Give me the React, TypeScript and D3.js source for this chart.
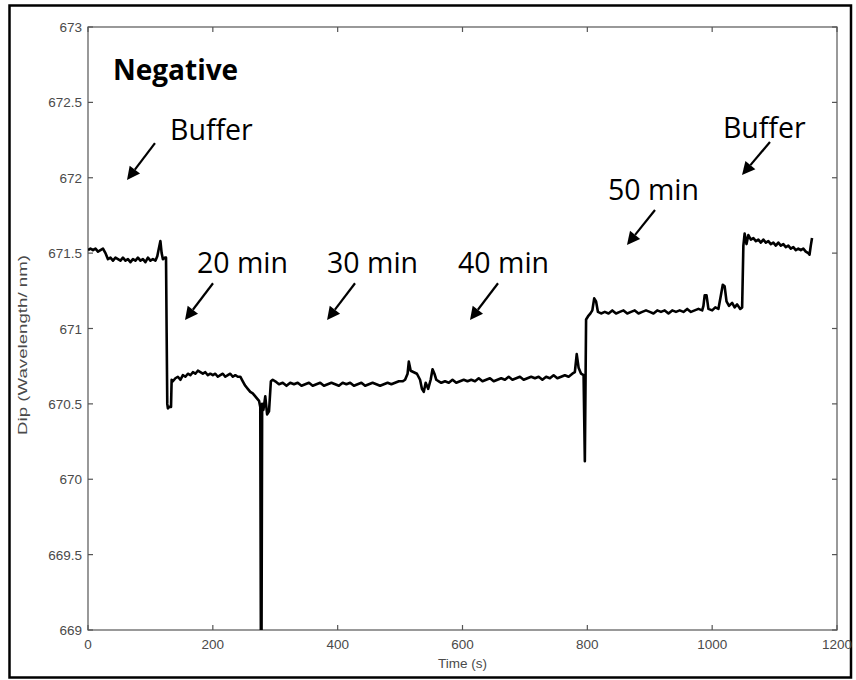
import React from "react";
import * as d3 from "d3";

// Buffer baseline and drop (0–134 s)
const timesA: number[] = [0, 4, 8, 12, 16, 20, 24, 28, 32, 36, 40, 44, 48, 52, 56, 60, 64, 68, 72, 76, 80, 84, 88, 92, 96, 100, 104, 108, 111, 113, 116, 118, 120, 123, 125, 126, 127, 128, 130, 133, 134, 136];
const dipsA: number[] = [671.52, 671.53, 671.52, 671.53, 671.51, 671.52, 671.53, 671.5, 671.46, 671.47, 671.45, 671.47, 671.46, 671.45, 671.47, 671.45, 671.46, 671.44, 671.46, 671.45, 671.47, 671.45, 671.46, 671.44, 671.47, 671.45, 671.46, 671.45, 671.48, 671.52, 671.58, 671.5, 671.46, 671.47, 671.47, 670.97, 670.5, 670.47, 670.48, 670.48, 670.66, 670.65];

// 20 min segment with downward spike (140–296 s)
const timesB: number[] = [140, 144, 148, 152, 156, 160, 164, 168, 172, 176, 180, 184, 188, 192, 196, 200, 204, 208, 212, 216, 220, 224, 228, 232, 236, 240, 244, 248, 252, 256, 260, 264, 268, 272, 274, 276, 277, 278, 279, 281, 284, 287, 290, 293, 296];
const dipsB: number[] = [670.67, 670.68, 670.66, 670.69, 670.68, 670.7, 670.69, 670.71, 670.7, 670.72, 670.71, 670.7, 670.71, 670.69, 670.7, 670.69, 670.7, 670.68, 670.69, 670.7, 670.68, 670.69, 670.7, 670.68, 670.69, 670.68, 670.68, 670.65, 670.62, 670.6, 670.58, 670.57, 670.55, 670.53, 670.52, 670.48, 668.9, 668.9, 670.5, 670.46, 670.55, 670.43, 670.45, 670.65, 670.66];

// 30–40 min segment (300–801 s)
const timesC: number[] = [300, 306, 312, 318, 324, 330, 336, 342, 348, 354, 360, 366, 372, 378, 384, 390, 396, 402, 408, 414, 420, 426, 432, 438, 444, 450, 456, 462, 468, 474, 480, 486, 492, 498, 504, 508, 512, 514, 517, 522, 527, 532, 535, 538, 541, 545, 549, 552, 555, 558, 562, 566, 572, 578, 584, 590, 596, 602, 608, 614, 620, 626, 632, 638, 644, 650, 656, 662, 668, 674, 680, 686, 692, 698, 704, 710, 716, 722, 728, 734, 740, 746, 752, 758, 764, 770, 776, 780, 783, 786, 790, 794, 796, 798, 801];
const dipsC: number[] = [670.65, 670.63, 670.64, 670.62, 670.64, 670.63, 670.64, 670.62, 670.63, 670.64, 670.62, 670.63, 670.64, 670.62, 670.63, 670.64, 670.63, 670.62, 670.64, 670.63, 670.64, 670.62, 670.63, 670.64, 670.62, 670.63, 670.64, 670.63, 670.62, 670.63, 670.64, 670.63, 670.64, 670.65, 670.65, 670.66, 670.7, 670.78, 670.72, 670.71, 670.7, 670.66, 670.6, 670.58, 670.64, 670.6, 670.66, 670.73, 670.7, 670.66, 670.65, 670.64, 670.65, 670.64, 670.66, 670.64, 670.65, 670.66, 670.65, 670.66, 670.65, 670.67, 670.65, 670.66, 670.67, 670.65, 670.66, 670.67, 670.66, 670.68, 670.66, 670.67, 670.68, 670.66, 670.67, 670.68, 670.67, 670.68, 670.66, 670.68, 670.67, 670.69, 670.67, 670.68, 670.69, 670.68, 670.7, 670.71, 670.83, 670.74, 670.7, 670.69, 670.12, 671.06, 671.08];

// 50 min segment and final buffer (805–1160 s)
const timesD: number[] = [805, 808, 811, 814, 817, 822, 828, 834, 840, 846, 852, 858, 864, 870, 876, 882, 888, 894, 900, 906, 912, 918, 924, 930, 936, 942, 948, 954, 960, 966, 972, 978, 984, 986, 988, 991, 994, 1000, 1005, 1010, 1014, 1017, 1020, 1023, 1027, 1032, 1036, 1040, 1045, 1048, 1050, 1052, 1055, 1058, 1062, 1066, 1070, 1074, 1078, 1082, 1086, 1090, 1094, 1098, 1102, 1106, 1110, 1114, 1118, 1122, 1126, 1130, 1134, 1138, 1142, 1146, 1150, 1154, 1156, 1158, 1160];
const dipsD: number[] = [671.1, 671.12, 671.2, 671.18, 671.11, 671.1, 671.11, 671.1, 671.12, 671.1, 671.11, 671.12, 671.1, 671.11, 671.12, 671.1, 671.11, 671.12, 671.11, 671.1, 671.12, 671.11, 671.12, 671.1, 671.12, 671.11, 671.12, 671.11, 671.13, 671.11, 671.12, 671.13, 671.12, 671.15, 671.22, 671.22, 671.13, 671.12, 671.14, 671.13, 671.22, 671.29, 671.28, 671.18, 671.15, 671.17, 671.14, 671.16, 671.13, 671.14, 671.55, 671.63, 671.56, 671.62, 671.59, 671.6, 671.58, 671.59, 671.57, 671.59, 671.57, 671.58, 671.56, 671.57, 671.55, 671.57, 671.55, 671.56, 671.54, 671.55, 671.53, 671.54, 671.52, 671.53, 671.52, 671.53, 671.51, 671.5, 671.49, 671.55, 671.6];

const xTicks: number[] = [0, 200, 400, 600, 800, 1000, 1200];
const yTicks: number[] = [669, 669.5, 670, 670.5, 671, 671.5, 672, 672.5, 673];

const labelTexts: string[] = ["Buffer", "20 min", "30 min", "40 min", "50 min", "Buffer"];
const labelT: number[] = [131.4, 174.6, 383, 592.8, 833.1, 1017.3];
const labelV: number[] = [672.25, 671.368, 671.368, 671.368, 671.852, 672.264];
const arrowT0: number[] = [107.3, 200.3, 427.8, 656.9, 908.4, 1092.6];
const arrowV0: number[] = [672.23, 671.3, 671.3, 671.3, 671.786, 672.237];
const arrowT1: number[] = [62.5, 155.4, 383, 612, 863.5, 1047.8];
const arrowV1: number[] = [671.985, 671.056, 671.056, 671.056, 671.554, 672.018];

const L = 88, R = 837, T = 27, B = 630;

export default function App() {
  const x = d3.scaleLinear().domain([0, 1200]).range([L, R]);
  const y = d3.scaleLinear().domain([669, 673]).range([B, T]);
  const times = [...timesA, ...timesB, ...timesC, ...timesD];
  const dips = [...dipsA, ...dipsB, ...dipsC, ...dipsD];
  const pts = times.map((t, i) => [t, dips[i]] as [number, number]);
  const line = d3.line<[number, number]>().x((d) => x(d[0])).y((d) => y(d[1]));
  const axisColor = "#555";
  const tickFont = "'Liberation Sans', Arial, sans-serif";
  const annFont = "'Open Sans', sans-serif";
  const tfs = 13.5;
  const tcol = "#4a4a4a";

  const arrows = labelTexts.map((_, i) => {
    const x0 = x(arrowT0[i]), y0 = y(arrowV0[i]);
    const x1 = x(arrowT1[i]), y1 = y(arrowV1[i]);
    const dx = x1 - x0, dy = y1 - y0;
    const len = Math.hypot(dx, dy);
    const ux = dx / len, uy = dy / len;
    const hl = 13, hw = 6.5;
    const bx = x1 - ux * hl, by = y1 - uy * hl;
    const head = `${x1},${y1} ${bx - uy * hw},${by + ux * hw} ${bx + uy * hw},${by - ux * hw}`;
    return { x0, y0, bx, by, head };
  });

  return (
    <svg width={856} height={680} style={{ position: "absolute", left: 0, top: 0, background: "#fff" }}>
      <rect x={0} y={0} width={856} height={680} fill="#fff" />
      <rect x={9.5} y={5.5} width={841.5} height={672} fill="none" stroke="#000" strokeWidth={2.5} />
      <defs>
        <clipPath id="plotclip">
          <rect x={L} y={T} width={R - L} height={B - T} />
        </clipPath>
      </defs>
      <rect x={L} y={T} width={R - L} height={B - T} fill="#fff" stroke={axisColor} strokeWidth={1.2} />
      {xTicks.map((t) => (
        <g key={"xt" + t}>
          <line x1={x(t)} x2={x(t)} y1={B} y2={B - 5} stroke={axisColor} strokeWidth={1.2} />
          <line x1={x(t)} x2={x(t)} y1={T} y2={T + 5} stroke={axisColor} strokeWidth={1.2} />
          <text x={x(t)} y={B + 19} textAnchor="middle" fontFamily={tickFont} fontSize={tfs} fill={tcol}>
            {t}
          </text>
        </g>
      ))}
      {yTicks.map((v) => (
        <g key={"yt" + v}>
          <line x1={L} x2={L + 5} y1={y(v)} y2={y(v)} stroke={axisColor} strokeWidth={1.2} />
          <line x1={R} x2={R - 5} y1={y(v)} y2={y(v)} stroke={axisColor} strokeWidth={1.2} />
          <text x={L - 6} y={y(v) + 5} textAnchor="end" fontFamily={tickFont} fontSize={tfs} fill={tcol}>
            {v}
          </text>
        </g>
      ))}
      <text x={(L + R) / 2} y={B + 38} textAnchor="middle" fontFamily={tickFont} fontSize={tfs} fill={tcol}>
        Time (s)
      </text>
      <text
        transform={`translate(27,345) rotate(-90)`}
        textAnchor="middle"
        fontFamily={tickFont}
        fontSize={tfs}
        fill={tcol}
        textLength={180}
        lengthAdjust="spacingAndGlyphs"
      >
        Dip (Wavelength/ nm)
      </text>
      <g clipPath="url(#plotclip)">
        <path d={line(pts) || ""} fill="none" stroke="#000" strokeWidth={2.6} strokeLinejoin="round" />
      </g>
      <text x={x(40)} y={y(672.648)} fontFamily={annFont} fontWeight={700} fontSize={28} fill="#000">
        Negative
      </text>
      {labelTexts.map((s, i) => (
        <text key={"lb" + i} x={x(labelT[i])} y={y(labelV[i])} fontFamily={annFont} fontSize={28.5} fill="#000">
          {s}
        </text>
      ))}
      {arrows.map((a, i) => (
        <g key={"ar" + i}>
          <line x1={a.x0} y1={a.y0} x2={a.bx} y2={a.by} stroke="#000" strokeWidth={2.2} />
          <polygon points={a.head} fill="#000" />
        </g>
      ))}
    </svg>
  );
}
